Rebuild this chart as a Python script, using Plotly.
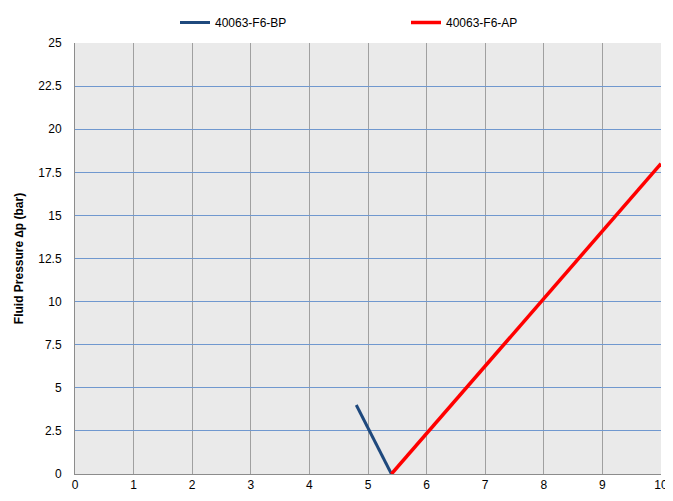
import plotly.graph_objects as go

bp_x = [4.8, 5.4]
bp_y = [4.0, 0.0]
ap_x = [5.4, 10.0]
ap_y = [0.0, 18.0]

x_ticks = [0, 1, 2, 3, 4, 5, 6, 7, 8, 9, 10]
y_ticks = [0, 2.5, 5, 7.5, 10, 12.5, 15, 17.5, 20, 22.5, 25]
y_labels = ["0", "2.5", "5", "7.5", "10", "12.5", "15", "17.5", "20", "22.5", "25"]

# page body has an 8px default margin; compensate
OFF = 8
W, H = 673 - OFF, 501 - OFF

fig = go.Figure()
fig.add_trace(go.Scatter(x=bp_x, y=bp_y, mode="lines", name="40063-F6-BP",
                         line=dict(color="#1F497D", width=3)))
fig.add_trace(go.Scatter(x=ap_x, y=ap_y, mode="lines", name="40063-F6-AP",
                         line=dict(color="#FF0000", width=3.5)))

fig.update_layout(
    width=W, height=H,
    margin=dict(l=75 - OFF, r=12, t=43 - OFF, b=27, autoexpand=False),
    paper_bgcolor="white",
    plot_bgcolor="#EAEAEA",
    font=dict(family="Liberation Sans, Arial", size=12, color="black"),
    showlegend=True,
    legend=dict(orientation="h", xref="container", yref="container",
                x=(175 - OFF) / W, xanchor="left", y=1.0, yanchor="top",
                font=dict(size=12), entrywidth=186, tracegroupgap=0,
                bgcolor="rgba(0,0,0,0)"),
)
fig.update_xaxes(range=[0, 10], tickvals=x_ticks, showgrid=True, gridcolor="#A0A0A0",
                 gridwidth=1, showline=True, linecolor="#8C8C8C", linewidth=1,
                 zeroline=False, ticks="", tickfont=dict(size=12))
fig.update_yaxes(range=[0, 25], tickvals=y_ticks, ticktext=y_labels, showgrid=True,
                 gridcolor="#7098CF", gridwidth=1.2, showline=True, linecolor="#8C8C8C",
                 linewidth=1, zeroline=False, ticks="", tickfont=dict(size=12),
                 ticklabelstandoff=10,
                 title=dict(text="<b>Fluid Pressure ∆p (bar)</b>", font=dict(size=12), standoff=12))

fig.write_html("out.html")
